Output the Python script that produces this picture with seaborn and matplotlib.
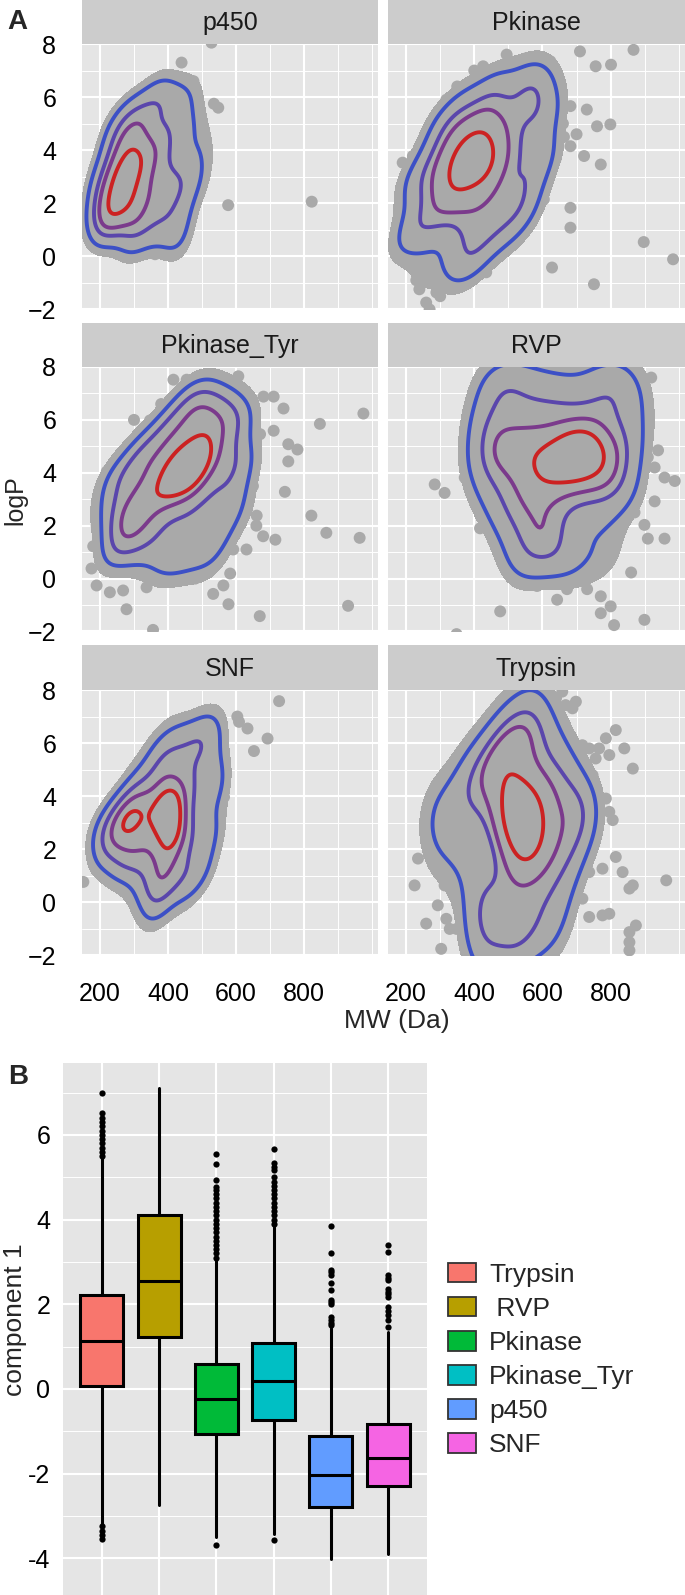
import matplotlib
matplotlib.use("Agg")
import matplotlib.pyplot as plt
from matplotlib.colors import ListedColormap
from matplotlib.patches import Patch
from matplotlib.ticker import FixedFormatter, FixedLocator
import pandas as pd
import seaborn as sns

sns.set_theme(style="darkgrid")
plt.rcParams['font.family'] = ['Liberation Sans', 'DejaVu Sans']

W, H = 685, 1595

# ---- panel A: MW vs logP per family ----
# dense cloud of each family (feeds the density contours) and the sparse points around it
families = ['p450', 'Pkinase', 'Pkinase_Tyr', 'RVP', 'SNF', 'Trypsin']

p450_mw = [240, 260, 280, 300, 300, 320, 340, 350, 280, 260, 300, 330, 370, 240, 310, 280,
           210, 230, 270, 330, 380, 400, 420, 380, 310, 250, 220, 420, 400, 440, 360,
           190, 195, 240, 300, 360, 420, 470, 480, 500, 490, 450, 420, 290, 200, 380, 430]
p450_logp = [2.0, 3.0, 4.0, 4.5, 2.0, 3.2, 2.5, 3.8, 2.5, 1.8, 3.5, 4.2, 2.3, 3.0, 1.6, 3.2,
             2.2, 3.8, 5.0, 5.3, 4.0, 3.2, 2.5, 1.5, 1.0, 1.2, 1.3, 4.5, 5.0, 3.0, 0.8,
             1.6, 2.8, 4.6, 5.5, 5.8, 6.0, 6.2, 5.0, 4.0, 2.9, 1.8, 1.0, 0.4, 0.9, 6.3, 0.4]
p450_out_mw = [440, 528, 577, 823, 169, 362, 396, 420, 352, 548, 535, 475]
p450_out_logp = [7.3, 8.05, 1.93, 2.06, 1.25, 0.08, 0.46, 0.4, 5.65, 5.6, 5.75, 6.6]

pkinase_mw = [249, 190, 210, 289, 368, 466, 555, 605, 632, 614, 565, 505, 417, 388, 338,
              220, 239, 328, 437, 555, 595, 585, 535, 456, 358, 259,
              269, 299, 368, 466, 545, 565, 535, 466, 387, 308,
              308, 338, 387, 427, 476, 486, 446, 387, 338,
              397, 420, 370, 450, 350, 400, 460, 430, 360]
pkinase_logp = [-0.73, 0.64, 2.65, 4.9, 6.03, 6.66, 6.97, 6.53, 5.4, 3.65, 1.77, 0.77, 0.14, -0.36, -0.6,
                1.0, 3.15, 4.9, 5.9, 6.28, 5.53, 3.65, 2.02, 1.15, 0.64, 0.9,
                2.27, 3.78, 4.9, 5.53, 5.53, 4.28, 2.65, 1.65, 1.15, 1.52,
                2.9, 3.53, 4.4, 4.7, 4.53, 3.65, 2.65, 2.0, 2.27,
                3.4, 3.8, 3.0, 4.0, 2.6, 4.2, 3.3, 2.8, 3.8]
pkinase_out_mw = [710, 756, 801, 867, 495, 553, 623, 682, 730, 760, 799, 771, 722, 682, 663, 638,
                  682, 682, 628, 751, 897, 983, 604, 454, 435, 327, 289, 239, 259, 269, 190, 185,
                  220, 318, 426, 640, 660, 700, 620, 590, 350, 400, 300, 250, 230, 200, 300, 350]
pkinase_out_logp = [7.72, 7.16, 7.22, 7.78, 7.6, 7.47, 7.35, 5.66, 5.53, 4.9, 4.97, 3.46, 3.78, 4.15, 4.5, 3.65,
                    1.83, 1.08, -0.42, -1.05, 0.54, -0.11, 2.15, -0.1, -0.6, -0.86, -1.36, -1.24, -1.74, -2.0, 3.53, 1.52,
                    3.78, 5.9, 7.16, 6.2, 5.0, 4.6, 6.8, 7.2, 6.4, 7.0, 5.4, 4.0, -0.9, 0.0, -1.5, -1.0]

tyr_mw = [229, 210, 239, 318, 396, 455, 504, 572, 631, 631, 612, 543, 523, 455, 386, 327, 259,
          245, 249, 337, 416, 474, 523, 602, 612, 592, 533, 455, 396, 318, 269,
          278, 298, 396, 474, 533, 582, 592, 572, 514, 445, 367, 298,
          318, 337, 396, 465, 523, 553, 523, 474, 455, 367, 318,
          430, 400, 460, 500, 380, 440, 500, 480, 420]
tyr_logp = [0.83, 2.63, 3.79, 4.95, 5.98, 6.88, 7.2, 6.75, 5.98, 4.18, 2.38, 1.35, 0.45, 0.45, 0.32, 0.83, 1.1,
            2.12, 3.66, 4.82, 5.59, 6.49, 6.62, 6.24, 4.69, 3.02, 1.6, 1.22, 0.96, 1.35, 1.6,
            2.5, 4.18, 5.34, 5.98, 6.24, 5.85, 4.31, 3.02, 2.5, 1.73, 1.99, 2.25,
            3.15, 4.05, 4.56, 4.95, 5.46, 4.82, 3.79, 3.4, 2.76, 2.5, 2.76,
            3.9, 3.6, 4.3, 4.6, 3.5, 4.2, 4.8, 4.0, 3.3]
tyr_out_mw = [607, 681, 711, 740, 847, 975, 754, 781, 754, 744, 822, 866, 964, 716, 680, 670,
              930, 356, 278, 190, 175, 229, 268, 337, 533, 578, 563, 583, 416, 455, 514, 347,
              180, 190, 220, 671, 711, 651, 661, 631, 592, 300, 380, 280, 420, 480, 650, 660]
tyr_out_logp = [7.65, 6.88, 6.88, 6.43, 5.85, 6.24, 5.08, 4.88, 4.43, 3.28, 2.38, 1.73, 1.54, 1.47, 1.6, -1.42,
                -1.03, -1.94, -1.16, -0.26, 0.38, -0.52, -0.45, -0.33, -0.58, -0.97, -0.26, 0.19, 7.52, 7.52, 7.65, 5.98,
                1.22, 2.0, 4.05, 5.46, 5.59, 4.69, 2.38, 1.1, 1.1, 6.0, 6.6, 4.6, 0.0, 0.0, 3.5, 2.0]

rvp_mw = [417, 446, 505, 584, 663, 763, 840, 870, 879, 850, 850, 792, 771, 692, 652, 633, 604, 584, 545, 515, 476, 426, 407,
          446, 466, 515, 584, 682, 781, 820, 820, 840, 781, 712, 623, 545, 515, 466, 446,
          486, 535, 633, 752, 771, 791, 781, 682, 584, 515, 486,
          702, 695, 710, 690, 620, 650, 600, 700, 560,
          560, 600, 650, 540, 600, 750, 740]
rvp_logp = [6.0, 7.41, 7.73, 7.47, 7.35, 7.73, 7.8, 6.9, 5.81, 4.85, 3.05, 1.51, 0.62, 0.36, 0.74, 1.38, 1.51, 1.0, 0.23, 0.87, 2.15, 3.18, 4.46,
            5.74, 6.9, 7.15, 6.83, 6.7, 7.15, 6.77, 5.1, 3.95, 3.05, 2.54, 2.28, 2.03, 2.8, 4.08, 4.85,
            5.36, 5.87, 6.19, 6.26, 5.36, 4.33, 3.56, 3.05, 2.54, 3.18, 4.33,
            4.53, 4.2, 4.9, 4.6, 4.5, 5.0, 4.0, 5.5, 4.8,
            4.0, 3.5, 3.8, 5.2, 5.5, 4.0, 5.2]
rvp_out_mw = [284, 313, 377, 387, 377, 372, 417, 446, 476, 348, 515, 584, 643, 672, 731, 771,
              800, 810, 771, 899, 860, 899, 909, 958, 929, 958, 988, 909, 929, 939, 880, 889,
              880, 919, 545, 620, 750, 700, 600, 880, 870]
rvp_out_logp = [3.56, 3.24, 4.33, 5.49, 4.72, 3.82, 1.9, 2.8, -1.24, -2.1, -0.03, -0.28, -0.8, -0.4, -0.4, -0.67,
                -1.05, -1.76, -1.31, -1.56, 0.23, 2.03, 1.51, 1.51, 2.92, 3.82, 3.69, 4.59, 4.2, 4.85, 6.0, 5.61,
                7.8, 7.6, 7.92, 8.0, 0.5, 0.0, 0.3, 3.3, 2.5]

snf_mw = [190, 220, 269, 308, 358, 407, 456, 515, 545, 545, 555, 535, 505, 456, 377, 338, 308, 289, 249, 200,
          210, 249, 308, 377, 436, 495, 525, 535, 525, 495, 446, 368, 348, 318, 259,
          239, 279, 338, 397, 466, 505, 515, 505, 476, 417, 377, 338, 298,
          259, 279, 318, 333, 298, 294, 348, 377, 397, 456, 476, 456, 427, 407, 372, 343, 407, 420,
          400, 420, 390, 430, 380, 410, 390, 410, 400, 380, 420, 430]
snf_logp = [2.53, 3.28, 3.91, 4.92, 5.8, 6.55, 6.3, 6.93, 6.55, 5.17, 4.16, 2.4, 1.14, 0.26, -0.49, -0.49, 0.39, 1.27, 1.14, 1.52,
            2.28, 3.03, 4.04, 5.42, 6.05, 6.3, 6.05, 4.67, 2.9, 1.27, 0.64, 0.14, 0.77, 1.77, 1.77,
            2.28, 3.28, 4.29, 5.3, 5.61, 5.3, 4.04, 2.65, 1.65, 0.89, 0.64, 1.65, 2.03,
            2.65, 3.28, 3.6, 3.28, 2.53, 3.03, 3.16, 4.41, 4.86, 4.92, 4.16, 2.9, 2.15, 1.14, 1.0, 2.4, 3.4, 3.8,
            2.5, 3.0, 3.8, 4.3, 1.8, 2.0, 3.0, 2.7, 4.0, 3.4, 3.5, 2.4]
snf_out_mw = [727, 604, 609, 634, 693, 653, 565, 565, 535, 520, 550, 151, 220, 333, 471, 505, 338]
snf_out_logp = [7.58, 7.0, 6.8, 6.55, 6.17, 5.7, 4.73, 3.97, 2.28, 7.06, 7.0, 0.77, 0.92, -0.43, 0.45, 6.55, 5.55]

trypsin_mw = [579, 618, 658, 698, 738, 717, 678, 658, 638, 599, 540, 510, 421, 401, 362, 298, 278, 308, 396, 475, 525,
              579, 648, 687, 658, 599, 530, 451, 421, 372, 372, 451, 520,
              530, 579, 599, 599, 579, 530, 480, 441, 421, 421, 471,
              500, 480, 500, 520, 559, 574, 559, 530, 530, 520]
trypsin_logp = [7.69, 6.43, 5.42, 4.16, 3.53, 2.65, 1.65, 0.39, -0.87, -1.37, -1.12, -1.75, -2.0, -0.87, 1.14, 1.77, 3.03, 3.91, 5.17, 6.18, 7.06,
                6.55, 4.67, 3.41, 1.9, 0.26, -1.12, -2.0, -0.11, 2.9, 4.29, 5.42, 6.18,
                5.61, 4.67, 3.66, 2.65, 1.65, 0.89, -0.11, 0.39, 2.15, 4.29, 5.17,
                4.16, 3.66, 2.78, 1.77, 1.9, 2.78, 3.41, 3.91, 2.9, 3.3]
trypsin_out_mw = [815, 840, 865, 786, 766, 737, 717, 756, 796, 747, 727, 786, 796, 806, 668, 688,
                  658, 698, 815, 835, 855, 865, 963, 796, 776, 737, 874, 855, 855, 855, 776, 737,
                  707, 717, 697, 697, 225, 235, 259, 303, 313, 293, 318, 328, 264, 264, 289, 299,
                  338, 348, 620, 640, 600]
trypsin_out_logp = [6.49, 5.8, 5.04, 6.18, 5.8, 5.8, 5.92, 5.42, 5.55, 4.79, 4.29, 3.91, 3.41, 3.1, 7.43, 7.31,
                    7.94, 7.56, 1.71, 1.14, 0.52, 0.64, 0.83, -0.43, -0.49, -0.55, -0.87, -1.12, -1.5, -1.81, 1.27, 1.14,
                    1.27, 0.14, 0.26, 1.77, 0.64, 1.65, -0.8, -1.75, 0.64, -0.11, -0.62, -1.0, 2.65, 3.53, 3.79, 4.16,
                    5.04, -1.0, 8.0, 7.7, 7.9]

# ---- panel B: component 1 box summaries ----
box_families = ['Trypsin', 'RVP', 'Pkinase', 'Pkinase_Tyr', 'p450', 'SNF']
box_legend = ['Trypsin', ' RVP', 'Pkinase', 'Pkinase_Tyr', 'p450', 'SNF']
box_colors = ['#F8766D', '#B79F00', '#00BA38', '#00BFC4', '#619CFF', '#F564E3']
box_q1 = [0.06, 1.23, -1.07, -0.74, -2.79, -2.30]
box_med = [1.13, 2.56, -0.24, 0.18, -2.04, -1.63]
box_q3 = [2.23, 4.10, 0.59, 1.09, -1.12, -0.84]
box_lo = [-3.19, -2.75, -3.50, -3.42, -4.03, -3.90]
box_hi = [5.45, 7.10, 3.04, 3.83, 1.43, 1.35]
trypsin_box_out = [7.0, 6.51, 6.4, 6.3, 6.2, 6.1, 6.0, 5.9, 5.8, 5.7, 5.6, 5.5, -3.25, -3.35, -3.45, -3.54]
rvp_box_out = []
pkinase_box_out = [5.54, 5.31, 4.94, 4.78, 4.7, 4.6, 4.5, 4.4, 4.3, 4.2, 4.1, 4.0, 3.9, 3.8, 3.7, 3.6,
                   3.5, 3.4, 3.3, 3.2, 3.1, -3.70]
tyr_box_out = [5.66, 5.33, 5.25, 5.17, 5.0, 4.9, 4.8, 4.7, 4.6, 4.5, 4.4, 4.3, 4.2, 4.1, 4.0, 3.9, -3.58]
p450_box_out = [3.85, 3.22, 2.8, 2.75, 2.7, 2.5, 2.33, 2.1, 2.05, 2.0, 1.7, 1.62, 1.55, 1.5]
snf_box_out = [3.40, 3.24, 2.69, 2.62, 2.57, 2.37, 2.30, 2.25, 2.17, 1.94, 1.85, 1.75, 1.62, 1.47]

level_colors = ['#3C50C6', '#5A46AC', '#7B3A8C', '#CC2222']
point_gray = '#A9A9A9'

core_lists = [(p450_mw, p450_logp), (pkinase_mw, pkinase_logp), (tyr_mw, tyr_logp),
              (rvp_mw, rvp_logp), (snf_mw, snf_logp), (trypsin_mw, trypsin_logp)]
out_lists = [(p450_out_mw, p450_out_logp), (pkinase_out_mw, pkinase_out_logp),
             (tyr_out_mw, tyr_out_logp), (rvp_out_mw, rvp_out_logp),
             (snf_out_mw, snf_out_logp), (trypsin_out_mw, trypsin_out_logp)]
frames = []
for fam, (cm, cl), (om, ol) in zip(families, core_lists, out_lists):
    frames.append(pd.DataFrame({'MW': cm, 'logP': cl, 'family': fam, 'core': True}))
    frames.append(pd.DataFrame({'MW': om, 'logP': ol, 'family': fam, 'core': False}))
df = pd.concat(frames, ignore_index=True)


def px_rect(x0, y0, x1, y1):
    return [x0 / W, 1 - y1 / H, (x1 - x0) / W, (y1 - y0) / H]


fig = plt.figure(figsize=(W / 100, H / 100), dpi=100)
fig.patch.set_facecolor('white')

cols = [(82, 378), (388, 685)]
rows = [(0, 44, 310), (323, 367, 632), (645, 690, 956)]

for i, fam in enumerate(families):
    r, c = divmod(i, 2)
    x0, x1 = cols[c]
    ys, y0, y1 = rows[r]
    sax = fig.add_axes(px_rect(x0, ys, x1, y0))
    sax.set_facecolor('#CCCCCC')
    sax.set_xticks([])
    sax.set_yticks([])
    sax.grid(False)
    for s in sax.spines.values():
        s.set_visible(False)
    sax.text(0.5, 0.47, fam, ha='center', va='center', fontsize=18,
             color='#1A1A1A', transform=sax.transAxes)

    ax = fig.add_axes(px_rect(x0, y0, x1, y1))
    sub = df[df['family'] == fam]
    cloud = sub[sub['core']]
    sns.scatterplot(data=sub, x='MW', y='logP', color=point_gray, s=74,
                    edgecolor='none', linewidth=0, ax=ax, zorder=2, legend=False)
    sns.kdeplot(data=cloud, x='MW', y='logP', fill=True, levels=[0.08, 1],
                cmap=ListedColormap([point_gray]), bw_adjust=0.85, ax=ax)
    sns.kdeplot(data=cloud, x='MW', y='logP', levels=[0.18, 0.45, 0.68, 0.88],
                colors=level_colors, linewidths=2.8, bw_adjust=0.85, ax=ax)

    ax.set_facecolor('#E5E5E5')
    ax.set_xlim(147, 1018)
    ax.set_ylim(-2.02, 8.0)
    ax.set_xticks([200, 400, 600, 800])
    ax.set_xticks([300, 500, 700, 900, 1000], minor=True)
    ax.set_yticks([-2, 0, 2, 4, 6, 8])
    ax.set_yticks([-1, 1, 3, 5, 7], minor=True)
    ax.grid(which='major', color='white', linewidth=1.5)
    ax.grid(which='minor', color='white', linewidth=0.7)
    ax.set_axisbelow(True)
    for s in ax.spines.values():
        s.set_visible(False)
    ax.set_xlabel('')
    ax.set_ylabel('')
    ax.tick_params(which='major', length=11.5, width=1.6, color='#7F7F7F',
                   labelsize=18, pad=7, labelcolor='black')
    ax.tick_params(which='minor', length=0)
    if c == 1:
        ax.tick_params(axis='y', left=False, labelleft=False)
    if r < 2:
        ax.tick_params(axis='x', bottom=False, labelbottom=False)

fig.text(17 / W, 1 - 22 / H, 'A', fontsize=20, fontweight='bold', ha='center', va='center')
fig.text(15 / W, 1 - 500 / H, 'logP', fontsize=18, rotation=90, ha='center', va='center')
fig.text(397 / W, 1 - 1021 / H, 'MW (Da)', fontsize=19, ha='center', va='center')

# ---- panel B ----
axb = fig.add_axes(px_rect(63, 1063, 427, 1595))
outs = [trypsin_box_out, rvp_box_out, pkinase_box_out, tyr_box_out, p450_box_out, snf_box_out]
stats = [dict(med=m, q1=a, q3=b, whislo=lo, whishi=hi, fliers=o, label=f)
         for f, a, m, b, lo, hi, o in zip(box_families, box_q1, box_med, box_q3,
                                          box_lo, box_hi, outs)]
bp = axb.bxp(stats, positions=range(6), widths=0.75, patch_artist=True, showcaps=False,
             boxprops=dict(linewidth=2.2, edgecolor='black'),
             medianprops=dict(color='black', linewidth=2.2),
             whiskerprops=dict(color='black', linewidth=2.2),
             flierprops=dict(marker='o', markersize=4.5, markerfacecolor='black',
                             markeredgecolor='none'))
for patch, col in zip(bp['boxes'], box_colors):
    patch.set_facecolor(col)

axb.set_facecolor('#E5E5E5')
axb.set_xlim(-0.68, 5.68)
axb.set_ylim(-4.87, 7.7)
axb.xaxis.set_major_locator(FixedLocator(range(6)))
axb.set_xticklabels([''] * 6)
axb.yaxis.set_major_locator(FixedLocator([-4, -2, 0, 2, 4, 6]))
axb.yaxis.set_major_formatter(FixedFormatter(['-4', '-2', '0', '2', '4', '6']))
axb.set_yticks([-3, -1, 1, 3, 5, 7], minor=True)
axb.grid(which='major', color='white', linewidth=1.5)
axb.grid(which='minor', axis='y', color='white', linewidth=0.7)
axb.grid(which='minor', axis='x', visible=False)
axb.set_axisbelow(True)
for s in axb.spines.values():
    s.set_visible(False)
axb.tick_params(axis='y', which='major', length=6, width=1.6, color='#7F7F7F',
                labelsize=18, pad=3, labelcolor='black')
axb.tick_params(axis='x', length=0)
axb.tick_params(which='minor', length=0)

fig.text(18 / W, 1 - 1077 / H, 'B', fontsize=20, fontweight='bold', ha='center', va='center')
fig.text(15 / W, 1 - 1320 / H, 'component 1', fontsize=19, rotation=90,
         ha='center', va='center')

handles = [Patch(facecolor=col, edgecolor='#333333', linewidth=1.3) for col in box_colors]
fig.legend(handles, box_legend, loc='upper left', bbox_to_anchor=(448 / W, 1 - 1263 / H),
           frameon=False, fontsize=19, handlelength=1.05, handleheight=0.75,
           handletextpad=0.5, labelspacing=0.38, borderpad=0, borderaxespad=0)

fig.savefig('out.png', dpi=100, facecolor='white')
